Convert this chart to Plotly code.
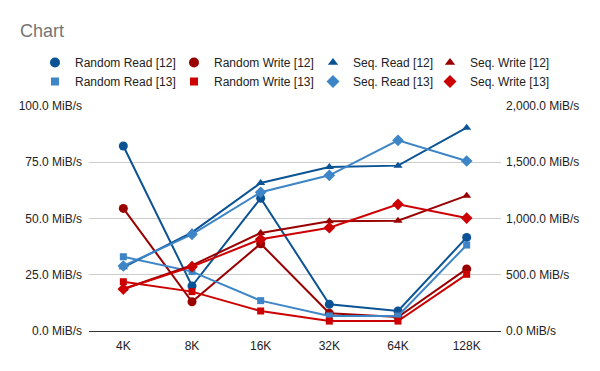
import plotly.graph_objects as go

categories = ["4K", "8K", "16K", "32K", "64K", "128K"]

random_read_12 = [82.2, 20.0, 59.0, 11.9, 8.9, 41.6]
random_write_12 = [54.5, 13.0, 38.8, 7.9, 6.2, 27.6]
seq_read_12 = [566, 877, 1316, 1458, 1470, 1807]
seq_write_12 = [373, 584, 871, 975, 980, 1203]
random_read_13 = [33.0, 26.4, 13.5, 6.7, 6.7, 38.2]
random_write_13 = [21.9, 17.5, 8.9, 4.4, 4.4, 25.2]
seq_read_13 = [578, 859, 1233, 1384, 1695, 1511]
seq_write_13 = [373, 572, 815, 918, 1126, 1004]

left_ticks = [0, 25, 50, 75, 100]
right_ticks = [0, 500, 1000, 1500, 2000]

DARK_BLUE = "#0b5394"
DARK_RED = "#990000"
LIGHT_BLUE = "#3d85c6"
RED = "#cc0000"

# name, values, colour, symbol, size, axis, legend
series = [
    ("Random Read [12]", random_read_12, DARK_BLUE, "circle", 9, "y", "legend"),
    ("Random Write [12]", random_write_12, DARK_RED, "circle", 9, "y", "legend2"),
    ("Seq. Read [12]", seq_read_12, DARK_BLUE, "triangle-up", 8, "y2", "legend3"),
    ("Seq. Write [12]", seq_write_12, DARK_RED, "triangle-up", 8, "y2", "legend4"),
    ("Random Read [13]", random_read_13, LIGHT_BLUE, "square", 7, "y", "legend"),
    ("Random Write [13]", random_write_13, RED, "square", 7, "y", "legend2"),
    ("Seq. Read [13]", seq_read_13, LIGHT_BLUE, "diamond", 9, "y2", "legend3"),
    ("Seq. Write [13]", seq_write_13, RED, "diamond", 9, "y2", "legend4"),
]

fig = go.Figure()
for name, vals, color, sym, size, yax, leg in series:
    fig.add_trace(go.Scatter(
        x=categories, y=vals, name=name, mode="lines+markers",
        line=dict(color=color, width=2),
        marker=dict(symbol=sym, size=size, color=color),
        yaxis=yax, showlegend=False, legendgroup=name,
    ))
for name, vals, color, sym, size, yax, leg in series:
    fig.add_trace(go.Scatter(
        x=[None], y=[None], name=name, mode="markers",
        marker=dict(symbol=sym, size=size + 1, color=color),
        yaxis=yax, showlegend=True, legendgroup=name, legend=leg,
    ))

def fmt(v):
    return f"{v:,.1f} MiB/s"

leg_common = dict(orientation="v", xref="container", yref="container",
                  xanchor="left", yanchor="top", y=1 - 48 / 371,
                  font=dict(family="Arial", size=12, color="#222222"),
                  bgcolor="rgba(0,0,0,0)", tracegroupgap=0, itemwidth=30)
marker_x = [56, 195, 334, 451]

fig.update_layout(
    width=600, height=371,
    margin=dict(l=89, r=99, t=106, b=40, autoexpand=False),
    paper_bgcolor="white", plot_bgcolor="white",
    font=dict(family="Arial", size=12, color="#222222"),
    title=dict(text="Chart", x=20 / 600, xanchor="left", xref="container",
               y=1 - 31 / 371, yanchor="middle", yref="container",
               font=dict(family="Arial", size=18, color="#757575")),
    legend=dict(leg_common, x=(marker_x[0] - 21) / 600),
    legend2=dict(leg_common, x=(marker_x[1] - 21) / 600),
    legend3=dict(leg_common, x=(marker_x[2] - 21) / 600),
    legend4=dict(leg_common, x=(marker_x[3] - 21) / 600),
    xaxis=dict(range=[-0.5, len(categories) - 0.5], showgrid=False, showline=True,
               linecolor="#333333", linewidth=1,
               ticks="", ticklabelstandoff=4, zeroline=False, fixedrange=True),
    yaxis=dict(range=[0, 100], tickmode="array", tickvals=left_ticks,
               ticktext=[fmt(v) for v in left_ticks],
               showgrid=True, gridcolor="#cccccc",
               zeroline=False, ticks="", ticklabelstandoff=6, showline=False),
    yaxis2=dict(range=[0, 2000], tickmode="array", tickvals=right_ticks,
                ticktext=[fmt(v) for v in right_ticks],
                overlaying="y", side="right", showgrid=False,
                zeroline=False, ticks="", ticklabelstandoff=4, showline=False),
)

fig.write_html("out.html", config={"displayModeBar": False},
               post_script="document.body.style.margin='0';document.body.style.padding='0';")
